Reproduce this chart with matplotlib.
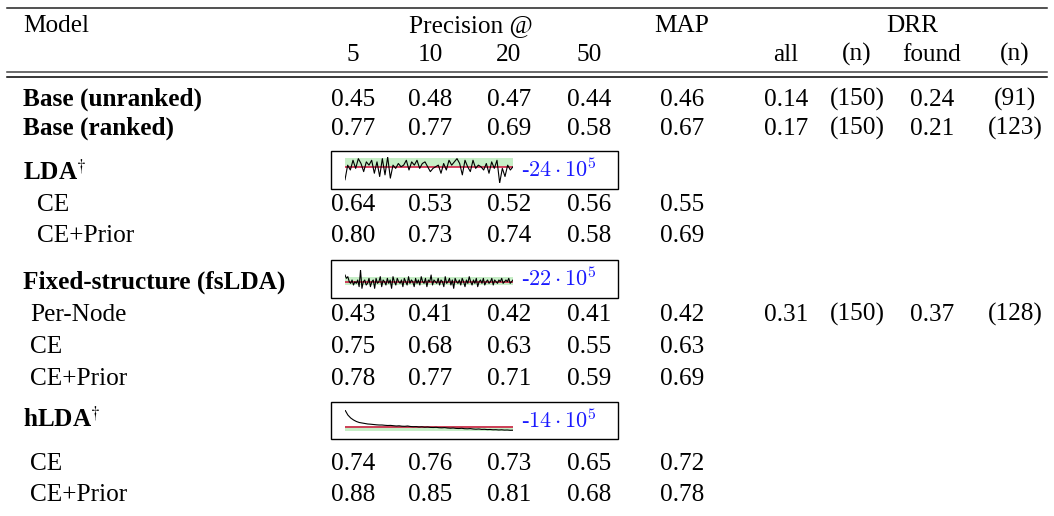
import matplotlib
matplotlib.use("Agg")
import matplotlib.pyplot as plt
from matplotlib.patches import Rectangle

plt.rcParams['font.family'] = ['Liberation Serif', 'DejaVu Serif']
plt.rcParams['mathtext.fontset'] = 'stix'

W, H = 1054, 516

# ---- table data ----
groups = [None, None, "LDA", "LDA", "Fixed-structure (fsLDA)", "Fixed-structure (fsLDA)",
          "Fixed-structure (fsLDA)", "hLDA", "hLDA"]
row_labels = ["Base (unranked)", "Base (ranked)", "CE", "CE+Prior",
              "Per-Node", "CE", "CE+Prior", "CE", "CE+Prior"]
p5 = [0.45, 0.77, 0.64, 0.80, 0.43, 0.75, 0.78, 0.74, 0.88]
p10 = [0.48, 0.77, 0.53, 0.73, 0.41, 0.68, 0.77, 0.76, 0.85]
p20 = [0.47, 0.69, 0.52, 0.74, 0.42, 0.63, 0.71, 0.73, 0.81]
p50 = [0.44, 0.58, 0.56, 0.58, 0.41, 0.55, 0.59, 0.65, 0.68]
map_vals = [0.46, 0.67, 0.55, 0.69, 0.42, 0.63, 0.69, 0.72, 0.78]
drr_all = [0.14, 0.17, None, None, 0.31, None, None, None, None]
drr_all_n = [150, 150, None, None, 150, None, None, None, None]
drr_found = [0.24, 0.21, None, None, 0.37, None, None, None, None]
drr_found_n = [91, 123, None, None, 128, None, None, None, None]

col_heads = ["5", "10", "20", "50", "", "all", "(n)", "found", "(n)"]

# ---- sparkline data (log-likelihood, units of 10^5) ----
lda_ll = [-24.8, -23.9, -24.2, -23.6, -24.1, -23.5, -23.8, -24.3, -23.7, -23.9,
          -23.6, -24.4, -23.7, -24.6, -23.5, -24.5, -23.4, -24.7, -23.9, -24.1,
          -23.8, -24.0, -23.9, -23.6, -24.2, -23.7, -23.9, -23.6, -24.1, -23.8,
          -23.7, -24.0, -24.3, -24.1, -24.0, -23.9, -24.4, -23.8, -24.2, -23.6,
          -23.9, -23.7, -23.5, -23.8, -24.5, -23.6, -24.0, -24.3, -23.6, -24.1,
          -23.9, -24.0, -24.2, -23.8, -24.4, -23.7, -24.1, -23.6, -25.0, -24.1,
          -24.6, -23.9, -24.2, -24.0]
fixed_ll = [-21.6, -21.8, -21.7, -22.0, -22.1, -21.9, -22.2, -22.0, -22.1, -21.9,
            -22.3, -21.3, -22.4, -22.0, -21.9, -22.2, -22.1, -21.8, -22.3, -22.0,
            -21.9, -22.4, -21.8, -22.1, -22.0, -21.7, -22.3, -21.9, -22.0, -22.2,
            -21.8, -22.1, -21.9, -22.4, -21.7, -22.0, -22.2, -21.8, -22.0, -22.1,
            -21.9, -22.3, -21.8, -22.0, -22.2, -21.7, -22.1, -21.9, -22.0, -22.3,
            -21.8, -22.1, -21.9, -22.2, -21.7, -22.0, -22.1, -21.8, -22.3, -21.9,
            -22.0, -21.6, -22.2, -21.9, -22.0, -22.1, -21.8, -22.2, -21.9, -22.0,
            -22.3, -21.7, -22.1, -22.0, -21.8, -22.2, -21.9, -22.4, -21.8, -22.0,
            -22.1, -21.9, -22.2, -21.8, -22.0, -22.3, -21.9, -22.1, -21.7, -22.0,
            -22.2, -21.9, -22.1, -21.8, -22.3, -22.0, -21.9, -22.1, -21.8, -22.2,
            -22.0, -21.9, -22.1, -22.0, -21.8, -22.2, -21.9, -22.0, -22.1, -21.9,
            -22.0, -21.8, -22.1, -22.0, -21.9, -22.0, -21.8, -22.1, -22.0, -21.9]
hlda_ll = [-12.3, -12.8, -13.1, -13.3, -13.45, -13.55, -13.6, -13.65, -13.7, -13.72,
           -13.75, -13.78, -13.8, -13.8, -13.83, -13.85, -13.84, -13.87, -13.9, -13.88,
           -13.92, -13.93, -13.9, -13.95, -13.97, -13.96, -14.0, -13.98, -14.02, -14.0,
           -14.04, -14.05, -14.03, -14.07, -14.08, -14.06, -14.1, -14.12, -14.1, -14.14,
           -14.15, -14.13, -14.17, -14.18, -14.16, -14.2, -14.22, -14.2, -14.24, -14.23,
           -14.26, -14.25, -14.28, -14.27, -14.3, -14.28, -14.31, -14.3, -14.33, -14.32]
spark_series = {"LDA": lda_ll, "Fixed-structure (fsLDA)": fixed_ll, "hLDA": hlda_ll}
spark_ref = {"LDA": -24.0, "Fixed-structure (fsLDA)": -22.0, "hLDA": -14.0}
spark_band = {"LDA": (-24.0, -23.45), "Fixed-structure (fsLDA)": (-22.2, -21.7),
              "hLDA": (-14.4, -13.9)}
spark_ylim = {"LDA": (-25.0, -23.4), "Fixed-structure (fsLDA)": (-22.5, -21.3),
              "hLDA": (-14.4, -12.3)}

# ---- layout (pixels, y down; y values are text baselines) ----
FS = 18.2
col_x = [353, 430, 509, 589, 682, 786, 857, 932, 1015]
row_y = [106, 135, 211, 242, 321, 353, 385, 470, 501]
group_y = {"LDA": 180, "Fixed-structure (fsLDA)": 289, "hLDA": 427}
box_y = {"LDA": (151, 189), "Fixed-structure (fsLDA)": (260, 298), "hLDA": (402, 439)}
line_y = {"LDA": (157, 183), "Fixed-structure (fsLDA)": (270, 290), "hLDA": (410, 431)}
indent = {None: 23, "LDA": 37, "Fixed-structure (fsLDA)": 30, "hLDA": 30}

fig = plt.figure(figsize=(W / 100, H / 100), dpi=100)
ax = fig.add_axes([0, 0, 1, 1])
ax.set_xlim(0, W)
ax.set_ylim(H, 0)
ax.axis('off')

# rules
ax.plot([7, 1047], [8, 8], color='#222222', lw=1.1)
ax.plot([7, 1047], [72, 72], color='#444444', lw=1.1)
ax.plot([7, 1047], [77, 77], color='black', lw=1.1)

# header
ax.text(23, 32, "Model", fontsize=FS, va='baseline', ha='left')
ax.text((col_x[0] + col_x[3]) / 2, 32, "Precision @", fontsize=FS, va='baseline', ha='center')
ax.text(col_x[4], 32, "MAP", fontsize=FS, va='baseline', ha='center')
ax.text(912, 32, "DRR", fontsize=FS, va='baseline', ha='center')
for cx, h in zip(col_x, col_heads):
    ax.text(cx, 61, h, fontsize=FS, va='baseline', ha='center')


def fmt(v):
    return "" if v is None else "%.2f" % v


def fmt_n(v):
    return "" if v is None else "(%d)" % v


for i, lab in enumerate(row_labels):
    g = groups[i]
    y = row_y[i]
    ax.text(indent[g], y, lab, fontsize=FS, va='baseline', ha='left',
            fontweight='bold' if g is None else 'normal')
    cells = [fmt(p5[i]), fmt(p10[i]), fmt(p20[i]), fmt(p50[i]), fmt(map_vals[i]),
             fmt(drr_all[i]), fmt_n(drr_all_n[i]), fmt(drr_found[i]), fmt_n(drr_found_n[i])]
    for cx, c in zip(col_x, cells):
        ax.text(cx, y, c, fontsize=FS, va='baseline', ha='center')

# group headers with sparklines
for g, gy in group_y.items():
    lab = g + r"$^{\dagger}$" if g != "Fixed-structure (fsLDA)" else g
    ax.text(23, gy, lab, fontsize=FS, va='baseline', ha='left', fontweight='bold')
    b0, b1 = box_y[g]
    ax.add_patch(Rectangle((331, b0), 618 - 331, b1 - b0, fill=False,
                           edgecolor='black', lw=1.0))
    ax.text(521, (b0 + b1) / 2 + 7, "-" + r"$%d\cdot10^{5}$" % abs(spark_ref[g]),
            fontsize=16, color='#1a1aff', va='baseline', ha='left',
            math_fontfamily='cm')
    l0, l1 = line_y[g]
    sax = fig.add_axes([345 / W, 1 - l1 / H, (513 - 345) / W, (l1 - l0) / H])
    vals = spark_series[g]
    xs = list(range(len(vals)))
    sax.axhspan(spark_band[g][0], spark_band[g][1], color='#c6eec6', lw=0)
    sax.axhline(spark_ref[g], color='#d0103a', lw=1.1)
    sax.plot(xs, vals, color='black', lw=0.8)
    sax.set_xlim(0, len(vals) - 1)
    sax.set_ylim(*spark_ylim[g])
    sax.axis('off')

fig.savefig("out.png", dpi=100)
